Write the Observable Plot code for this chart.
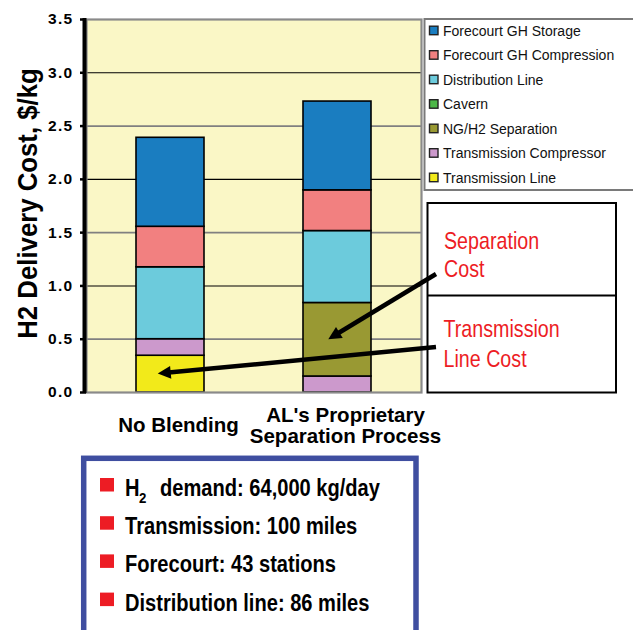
<!DOCTYPE html>
<html>
<head>
<meta charset="utf-8">
<script src="https://cdn.jsdelivr.net/npm/d3@7"></script>
<script src="https://cdn.jsdelivr.net/npm/@observablehq/plot@0.6"></script>
<style>
  html, body { margin: 0; padding: 0; background: #fff; }
  #chart svg g[aria-label*="y-axis tick label"] text {
    font-weight: bold !important; font-size: 15.5px !important; letter-spacing: 1.3px;
  }
</style>
</head>
<body>
<div id="chart"></div>
<script>
// Cost categories (one stacked bar each)
const categories = ["No Blending", "AL's Proprietary\nSeparation Process"];

// Cost components, in legend order (top of stack first)
const components = [
  "Forecourt GH Storage",
  "Forecourt GH Compression",
  "Distribution Line",
  "Cavern",
  "NG/H2 Separation",
  "Transmission Compressor",
  "Transmission Line"
];
const componentColors = ["#1a7dc0", "#f28080", "#6ccbdc", "#4db848", "#999933", "#cc99cc", "#f2ea1a"];

// Delivery cost per component, $/kg, same order as components
const noBlendingCost = [0.835, 0.38, 0.675, 0, 0, 0.155, 0.345];
const separationCost = [0.833, 0.382, 0.675, 0, 0.69, 0.15, 0];

const yTicks = [0, 0.5, 1, 1.5, 2, 2.5, 3, 3.5];
const majorGrid = [1, 2, 3];
const minorGrid = [0.5, 1.5, 2.5];

const yTitle = "H2 Delivery Cost, $/kg";
const calloutSeparation = ["Separation", "Cost"];
const calloutTransmission = ["Transmission", "Line Cost"];
const assumptions = [
  ["H", "2", "demand: 64,000 kg/day"],
  ["Transmission: 100 miles"],
  ["Forecourt: 43 stations"],
  ["Distribution line: 86 miles"]
];

// Long table, stacked from the bottom component upward
const seriesByCategory = [noBlendingCost, separationCost];
const rows = [];
categories.forEach((c, ci) => {
  for (let k = components.length - 1; k >= 0; --k) {
    rows.push({category: c, component: components[k], value: seriesByCategory[ci][k]});
  }
});

const FONT = "'Liberation Sans', Arial, Helvetica, sans-serif";

const plot = Plot.plot({
  width: 633,
  height: 630,
  marginLeft: 86,
  marginRight: 212,
  marginTop: 19,
  marginBottom: 238,
  style: {fontFamily: FONT, background: "#fff", overflow: "visible"},
  x: {domain: categories, paddingInner: 0.594, paddingOuter: 0.297, axis: null},
  y: {domain: [0, 3.5], axis: null},
  color: {domain: components, range: componentColors},
  marks: [
    Plot.frame({fill: "#faf7c6"}),
    Plot.ruleY(minorGrid, {stroke: "#808080", strokeWidth: 1.8}),
    Plot.ruleY(majorGrid, {stroke: "#000", strokeWidth: 1.1}),
    Plot.barY(rows.filter(d => d.value > 0), {
      x: "category", y: "value", fill: "component",
      stroke: "#000", strokeWidth: 1.6
    }),
    Plot.frame({stroke: "#8a8a8a", strokeWidth: 2.2}),
    Plot.axisY({
      ticks: yTicks, tickFormat: d3.format(".1f"), tickSize: 6, tickPadding: 7,
      strokeWidth: 2.5, fontSize: 15.5, fontWeight: "bold", label: null
    }),
    Plot.text(categories, {
      x: d => d, frameAnchor: "bottom", dy: 33, dx: 8, lineAnchor: "middle",
      lineHeight: 1.05, fontSize: 20.5, fontWeight: "bold", fill: "#000"
    })
  ]
});
document.getElementById("chart").appendChild(plot);

const svg = d3.select(plot);
const xs = plot.scale("x");
const ys = plot.scale("y");
const xScale = d3.scaleBand(xs.domain, xs.range).paddingInner(0.594).paddingOuter(0.297);
const yScale = d3.scaleLinear(ys.domain, ys.range);
const [plotLeft, plotRight] = xs.range;
const [plotBottom, plotTop] = ys.range;

// Thick left axis line
svg.append("line")
  .attr("x1", plotLeft - 1.5).attr("x2", plotLeft - 1.5)
  .attr("y1", plotTop - 1).attr("y2", plotBottom + 1)
  .attr("stroke", "#000").attr("stroke-width", 4);

// Rotated y-axis title
svg.append("text")
  .attr("transform", `translate(36.5,${(plotTop + plotBottom) / 2 - 2}) rotate(-90) scale(0.92,1)`)
  .attr("text-anchor", "middle")
  .attr("font-family", FONT).attr("font-weight", "bold").attr("font-size", 28)
  .text(yTitle);

// Legend box
const legend = svg.append("g").attr("text-anchor", "start");
legend.append("rect")
  .attr("x", 424.5).attr("y", plotTop).attr("width", 260).attr("height", 171)
  .attr("fill", "#fff").attr("stroke", "#7a7a7a").attr("stroke-width", 2);
components.forEach((name, i) => {
  const base = 35.7 + i * 24.5;
  legend.append("rect")
    .attr("x", 429.5).attr("y", base - 9.5).attr("width", 8.5).attr("height", 8.5)
    .attr("fill", componentColors[i]).attr("stroke", "#222").attr("stroke-width", 1.4);
  legend.append("text")
    .attr("x", 443).attr("y", base)
    .attr("text-anchor", "start")
    .attr("font-family", FONT).attr("font-size", 14).attr("fill", "#111")
    .text(name);
});

// Condensed text helper
function narrowText(parent, x, y, str, size, sx, attrs = {}) {
  const t = parent.append("text")
    .attr("transform", `translate(${x},${y}) scale(${sx},1)`)
    .attr("text-anchor", "start")
    .attr("font-family", FONT).attr("font-size", size)
    .text(str);
  for (const k in attrs) t.attr(k, attrs[k]);
  return t;
}

// Callout boxes
const callout = svg.append("g").attr("text-anchor", "start");
callout.append("rect")
  .attr("x", 427.5).attr("y", 203).attr("width", 188.5).attr("height", 189.5)
  .attr("fill", "#fff").attr("stroke", "#000").attr("stroke-width", 2);
callout.append("line")
  .attr("x1", 427.5).attr("x2", 616).attr("y1", 295.5).attr("y2", 295.5)
  .attr("stroke", "#000").attr("stroke-width", 2);
calloutSeparation.forEach((s, i) =>
  narrowText(callout, 444, 249.3 + i * 28, s, 24, 0.82, {fill: "#ed1c24"}));
calloutTransmission.forEach((s, i) =>
  narrowText(callout, 443.5, 336.7 + i * 30, s, 24, 0.82, {fill: "#ed1c24"}));

// Arrows from the callouts to the segments they describe
function arrow(x1, y1, x2, y2) {
  const dx = x2 - x1, dy = y2 - y1, len = Math.hypot(dx, dy);
  const ux = dx / len, uy = dy / len, head = 13, half = 6.5;
  const bx = x2 - ux * head, by = y2 - uy * head;
  svg.append("line")
    .attr("x1", x1).attr("y1", y1).attr("x2", bx + ux * 2).attr("y2", by + uy * 2)
    .attr("stroke", "#000").attr("stroke-width", 4.5);
  svg.append("polygon")
    .attr("points", [[x2, y2], [bx - uy * half, by + ux * half], [bx + uy * half, by - ux * half]].map(p => p.join(",")).join(" "))
    .attr("fill", "#000");
}
const sepIdx = components.indexOf("NG/H2 Separation");
const sepBelow = separationCost[components.indexOf("Transmission Compressor")] + separationCost[components.indexOf("Transmission Line")];
arrow(436, 274,
  xScale(categories[1]) + xScale.bandwidth() / 2 - 9,
  yScale(sepBelow + separationCost[sepIdx] / 2));
const lineIdx = components.indexOf("Transmission Line");
arrow(436, 347,
  xScale(categories[0]) + xScale.bandwidth() / 2 - 12,
  yScale(noBlendingCost[lineIdx] / 2));

// Assumptions box
const box = svg.append("g").attr("text-anchor", "start");
box.append("rect")
  .attr("x", 83.7).attr("y", 458.3).attr("width", 332.3).attr("height", 200)
  .attr("fill", "#fff").attr("stroke", "#3f4ea0").attr("stroke-width", 5.5);
assumptions.forEach((parts, i) => {
  const base = 496 + i * 38.2;
  box.append("rect")
    .attr("x", 100).attr("y", base - 18).attr("width", 14).attr("height", 13.5)
    .attr("fill", "#ed1c24");
  if (parts.length === 3) {
    narrowText(box, 125, base, parts[0], 23.5, 0.855, {"font-weight": "bold"});
    narrowText(box, 139, base + 7, parts[1], 15.5, 0.855, {"font-weight": "bold"});
    narrowText(box, 160, base, parts[2], 23.5, 0.855, {"font-weight": "bold"});
  } else {
    narrowText(box, 125, base, parts[0], 23.5, 0.855, {"font-weight": "bold"});
  }
});
</script>
</body>
</html>
